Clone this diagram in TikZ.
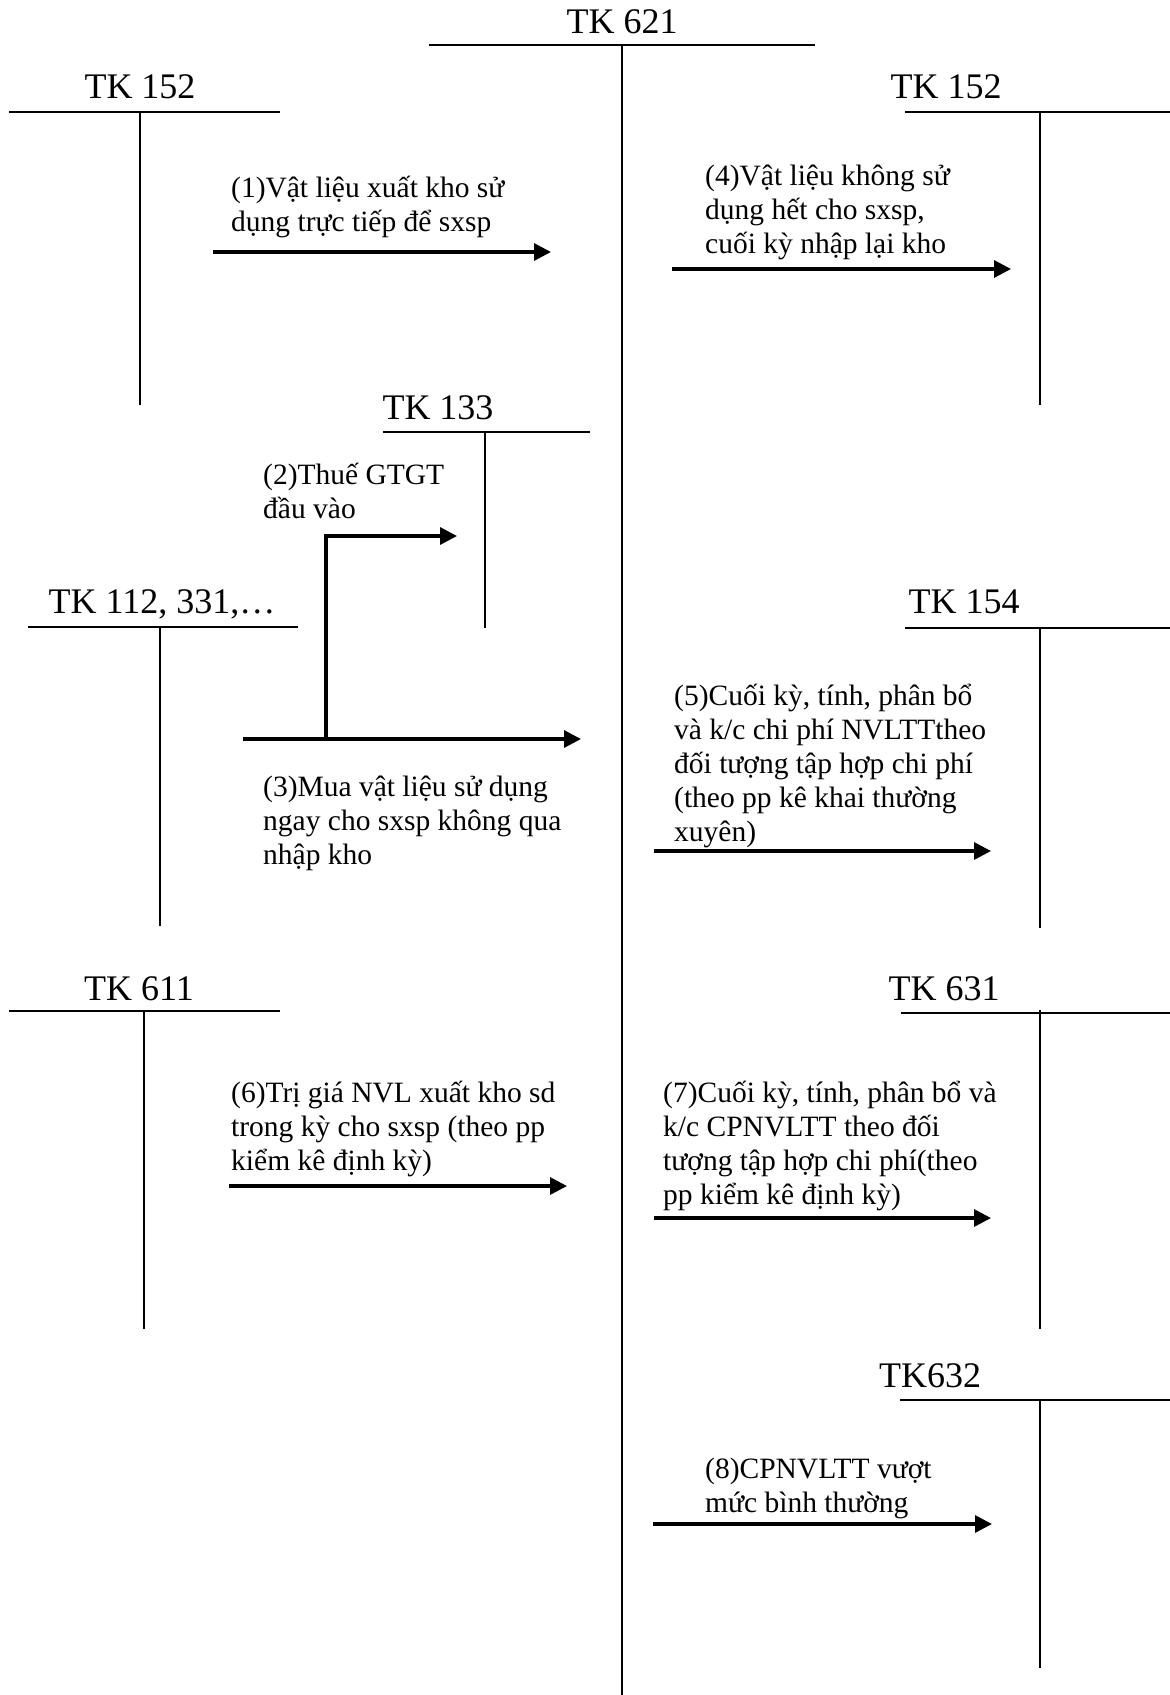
\documentclass[tikz,border=0pt]{standalone}
\usepackage{fontspec}
\setmainfont{Liberation Serif}
\usetikzlibrary{arrows.meta}

\begin{document}
\begin{tikzpicture}[
x=1pt, y=-1pt,
title/.style={font=\fontsize{36}{40}\selectfont, inner sep=0pt, anchor=base},
note/.style={font=\fontsize{29.5}{34}\selectfont, inner sep=0pt, align=left, anchor=base west},
tline/.style={line width=2.2pt},
vline/.style={line width=1.6pt},
arrow/.style={-{Triangle[length=17pt,width=17pt]}, line width=3.2pt}
]
\useasboundingbox (0,0) rectangle (1170,1695);

\node[title] (tk621) at (622,33) {TK 621};
\draw[tline] (429,45) -- (815,45);
\draw[vline] (622,45) -- (622,1695);

\node[title] (tk152a) at (140,98) {TK 152};
\draw[tline] (9,112) -- (280,112);
\draw[vline] (140,112) -- (140,405);

\node[title] (tk152b) at (946,98) {TK 152};
\draw[tline] (905,112) -- (1170,112);
\draw[vline] (1040,112) -- (1040,405);

\node[title] (tk133) at (438,419) {TK 133};
\draw[tline] (383,432) -- (590,432);
\draw[vline] (485,432) -- (485,628);

\node[title] (tk112) at (162,613) {TK 112, 331,…};
\draw[tline] (28,627) -- (298,627);
\draw[vline] (160,627) -- (160,926);

\node[title] (tk154) at (964,613) {TK 154};
\draw[tline] (905,628) -- (1170,628);
\draw[vline] (1040,628) -- (1040,928);

\node[title] (tk611) at (139,1000) {TK 611};
\draw[tline] (9,1011) -- (280,1011);
\draw[vline] (144,1011) -- (144,1329);

\node[title] (tk631) at (944,1000) {TK 631};
\draw[tline] (901,1013) -- (1170,1013);
\draw[vline] (1040,1010) -- (1040,1329);

\node[title] (tk632) at (930,1387) {TK632};
\draw[tline] (900,1400) -- (1170,1400);
\draw[vline] (1040,1400) -- (1040,1668);

\node[note] (n1) at (231,231) {(1)Vật liệu xuất kho sử\\dụng trực tiếp để sxsp};
\node[note] (n4) at (705,253) {(4)Vật liệu không sử\\dụng hết cho sxsp,\\cuối kỳ nhập lại kho};
\node[note] (n2) at (263,518) {(2)Thuế GTGT\\đầu vào};
\node[note] (n3) at (263,864) {(3)Mua vật liệu sử dụng\\ngay cho sxsp không qua\\nhập kho};
\node[note] (n5) at (674,841) {(5)Cuối kỳ, tính, phân bổ\\và k/c chi phí NVLTTtheo\\đối tượng tập hợp chi phí\\(theo pp kê khai thường\\xuyên)};
\node[note] (n6) at (231,1170) {(6)Trị giá NVL xuất kho sd\\trong kỳ cho sxsp (theo pp\\kiểm kê định kỳ)};
\node[note] (n7) at (663,1204) {(7)Cuối kỳ, tính, phân bổ và\\k/c CPNVLTT theo đối\\tượng tập hợp chi phí(theo\\pp kiểm kê định kỳ)};
\node[note] (n8) at (705,1512) {(8)CPNVLTT vượt\\mức bình thường};

\coordinate (a1s) at (213,252);
\coordinate (a1e) at (551,252);
\coordinate (a4s) at (672,269);
\coordinate (a4e) at (1011,269);
\coordinate (a2s) at (326,739);
\coordinate (a2e) at (457,536);
\coordinate (a3s) at (243,739);
\coordinate (a3e) at (581,739);
\coordinate (a5s) at (654,851);
\coordinate (a5e) at (991,851);
\coordinate (a6s) at (229,1186);
\coordinate (a6e) at (567,1186);
\coordinate (a7s) at (654,1218);
\coordinate (a7e) at (991,1218);
\coordinate (a8s) at (653,1524);
\coordinate (a8e) at (992,1524);

\draw[arrow] (a1s) -- (a1e);
\draw[arrow] (a4s) -- (a4e);
\draw[arrow] (a2s) |- (a2e);
\draw[arrow] (a3s) -- (a3e);
\draw[arrow] (a5s) -- (a5e);
\draw[arrow] (a6s) -- (a6e);
\draw[arrow] (a7s) -- (a7e);
\draw[arrow] (a8s) -- (a8e);
\end{tikzpicture}
\end{document}
